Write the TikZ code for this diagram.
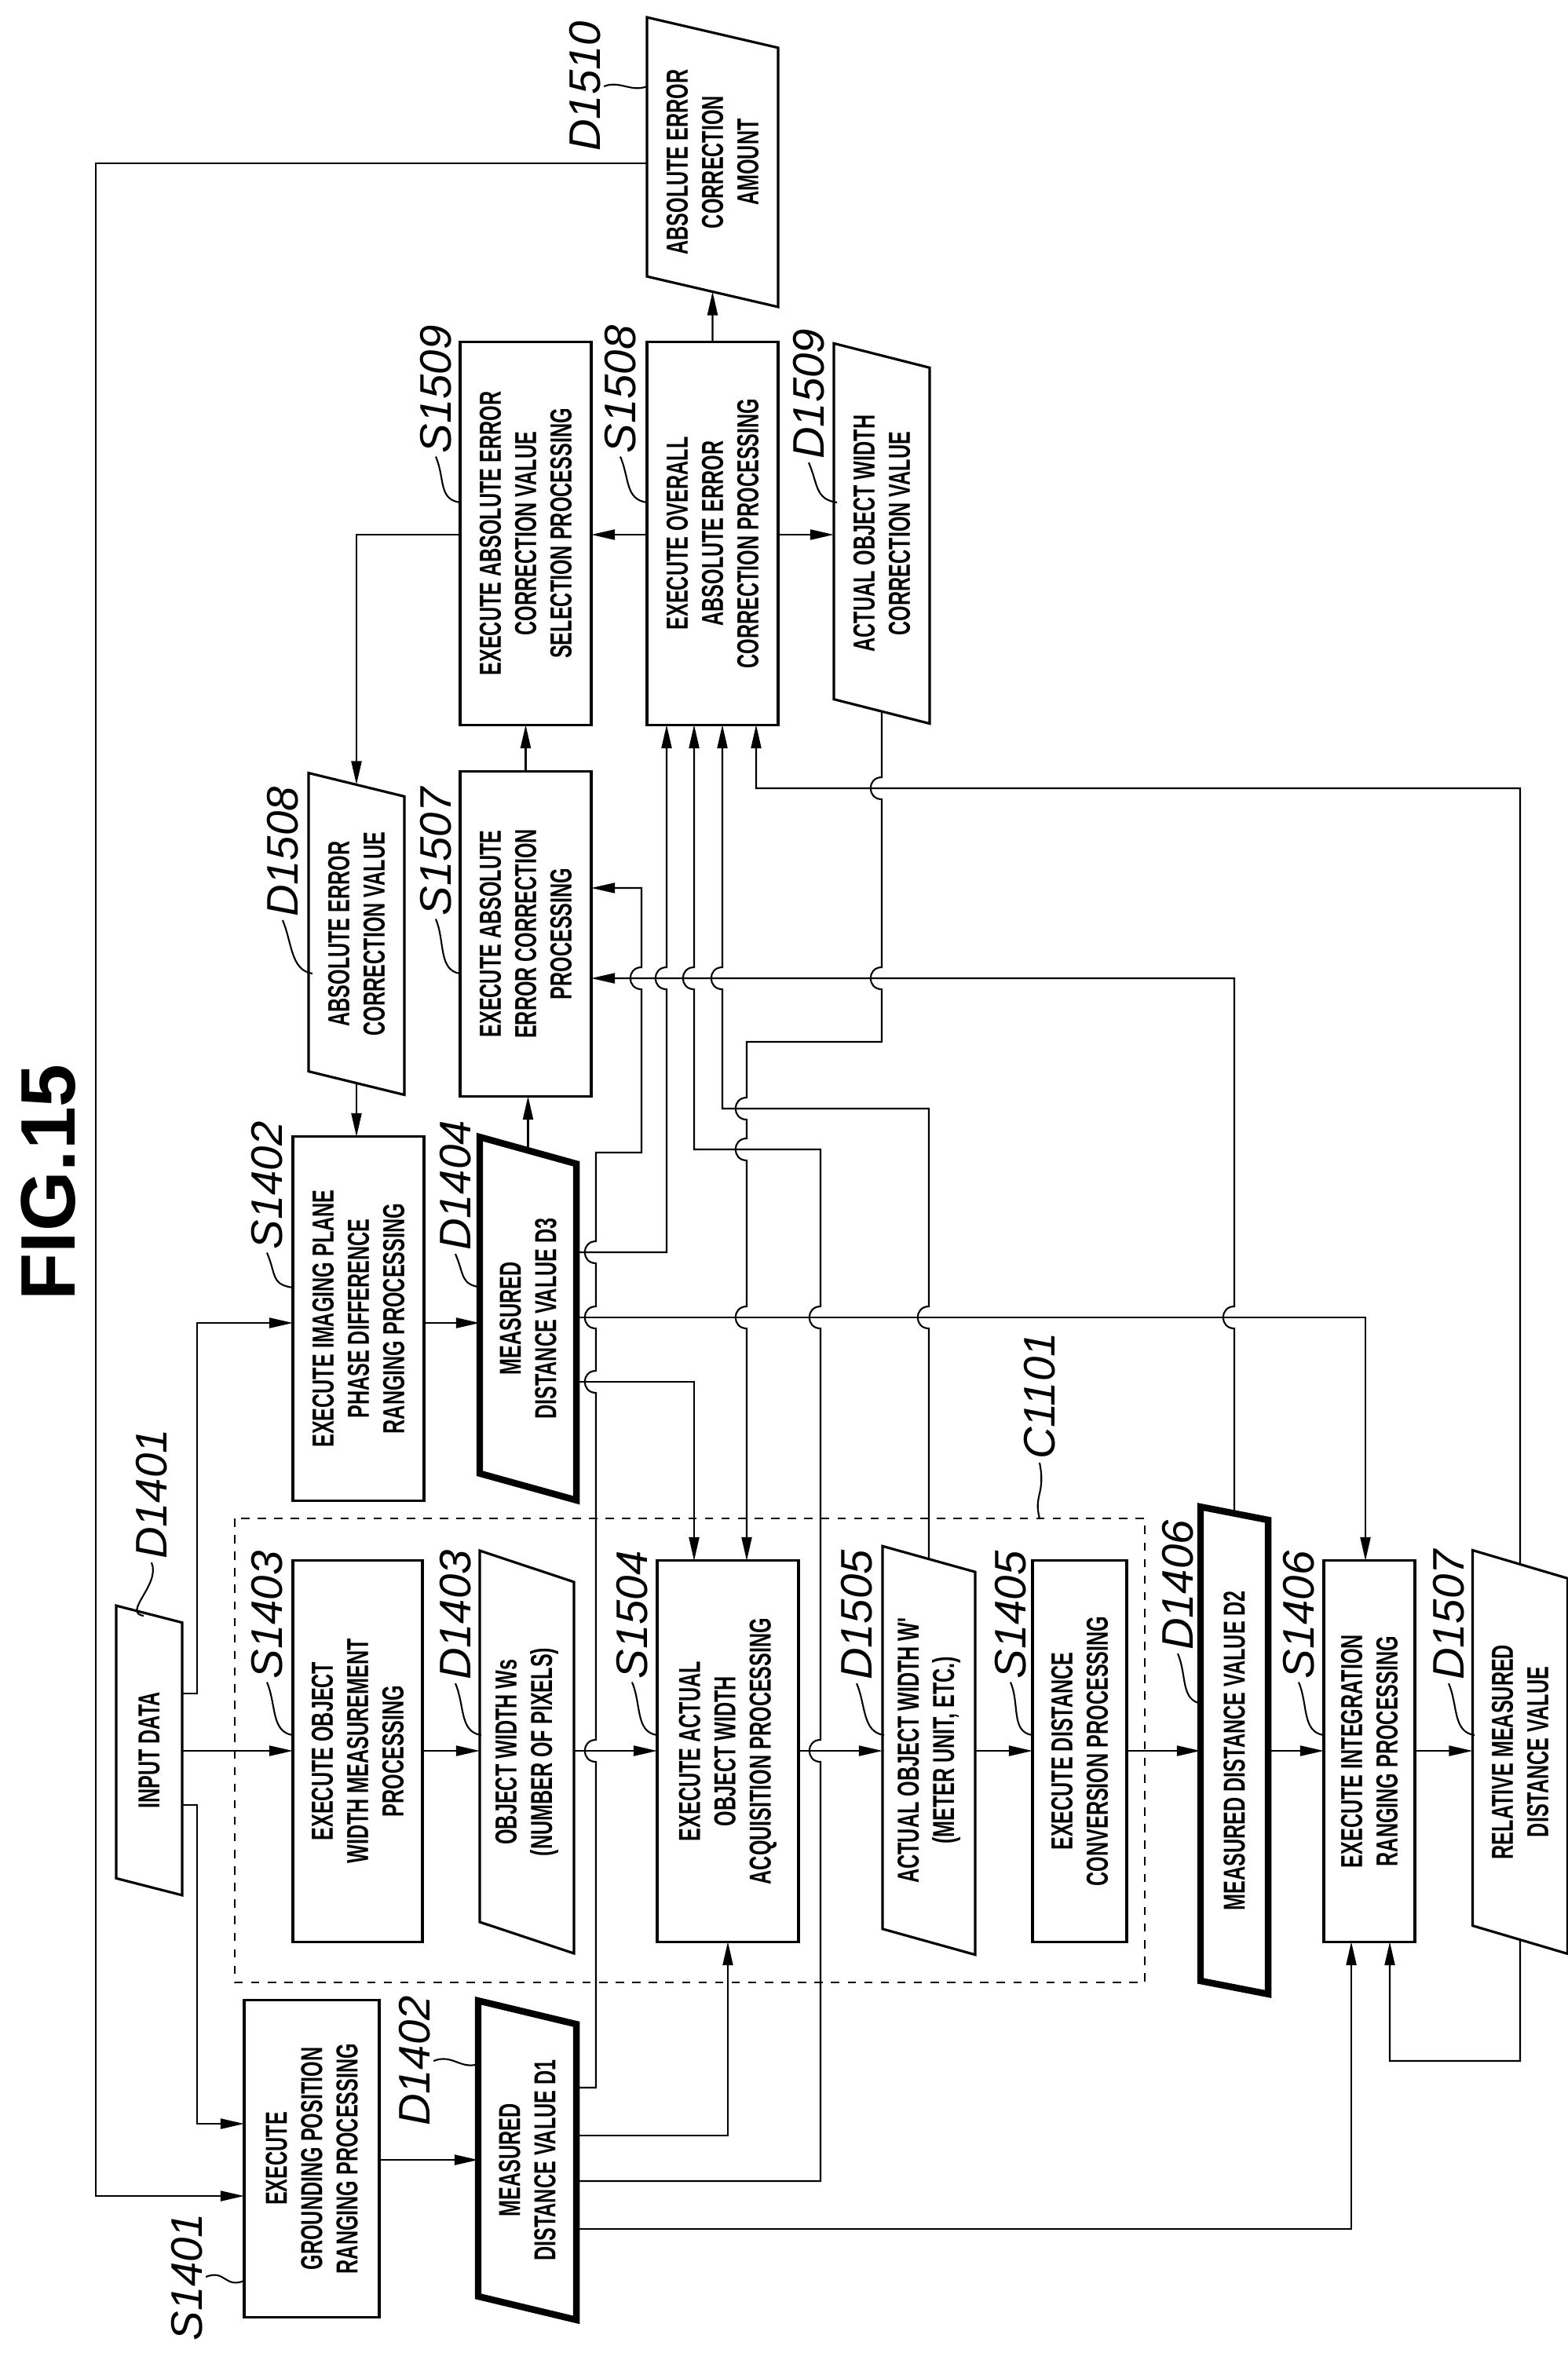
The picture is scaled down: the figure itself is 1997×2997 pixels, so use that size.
\documentclass[tikz,border=0pt]{standalone}
\usepackage{fontspec}
\setmainfont{Liberation Sans}
\newfontfamily\boxfam{Liberation Sans}[FakeStretch=0.65]
\newfontfamily\tagfam{Liberation Sans}
\usetikzlibrary{arrows.meta,shapes.geometric}
\newcommand\boxfont{\boxfam\bfseries\fontsize{11}{12.8}\selectfont}
\newcommand\tagfont{\tagfam\itshape\fontsize{16}{18}\selectfont}
\newcommand\titlefont{\bfseries\fontsize{28}{30}\selectfont}
% hops on vertical lines, bulging to the left
\newcommand\hopup[2]{-- (#1,#2+14) .. controls (#1-19,#2+14) and (#1-19,#2-14) .. (#1,#2-14)}
\newcommand\hopdn[2]{-- (#1,#2-14) .. controls (#1-19,#2-14) and (#1-19,#2+14) .. (#1,#2+14)}
\newcommand\tagline[2]{\draw[link] (#1) .. controls +(12,28) and +(-28,-4) .. (#2);}
\tikzset{
  box/.style={draw, line width=0.9pt, rotate=90, inner sep=0pt, outer sep=0pt, align=center, font=\boxfont},
  para/.style={box, trapezium, trapezium left angle=#1, trapezium right angle=180-#1, trapezium stretches},
  para/.default=73,
  boldpara/.style={para=#1, line width=2.4pt},
  boldpara/.default=73,
  tag/.style={rotate=90, font=\tagfont, inner sep=1pt},
  link/.style={line width=0.6pt},
  arr/.style={link, -{Triangle[length=0.3cm,width=0.13cm]}},
}
\begin{document}
\begin{tikzpicture}[x=0.01cm, y=-0.01cm]
\useasboundingbox (0,0) rectangle (1997,2997);
\node[rotate=90, font=\titlefont] (title) at (62,1506) {FIG.15};

% upper part
\node[para=75, minimum width=3.71cm, minimum height=1.67cm] (D1510) at (907.5,206.5) {ABSOLUTE ERROR\\CORRECTION\\AMOUNT};
\node[box, minimum width=4.87cm, minimum height=1.67cm] (S1509) at (669.5,679.5) {EXECUTE ABSOLUTE ERROR\\CORRECTION VALUE\\SELECTION PROCESSING};
\node[box, minimum width=4.87cm, minimum height=1.67cm] (S1508) at (907.5,679.5) {EXECUTE OVERALL\\ABSOLUTE ERROR\\CORRECTION PROCESSING};
\node[para, minimum width=4.87cm, minimum height=1.22cm] (D1509) at (1123,679.5) {ACTUAL OBJECT WIDTH\\CORRECTION VALUE};
\node[para, minimum width=4.13cm, minimum height=1.22cm] (D1508) at (454,1189.5) {ABSOLUTE ERROR\\CORRECTION VALUE};
\node[box, minimum width=4.13cm, minimum height=1.67cm] (S1507) at (669.5,1189.5) {EXECUTE ABSOLUTE\\ERROR CORRECTION\\PROCESSING};
\node[box, minimum width=4.63cm, minimum height=1.67cm] (S1402) at (456.5,1679.5) {EXECUTE IMAGING PLANE\\PHASE DIFFERENCE\\RANGING PROCESSING};
\node[boldpara, minimum width=4.63cm, minimum height=1.23cm] (D1404) at (672.5,1679.5) {MEASURED\\DISTANCE VALUE D3};

% middle row
\node[para=70, minimum width=3.69cm, minimum height=0.84cm] (INPUT) at (190,2229.5) {INPUT DATA};
\draw[link, dashed] (299,1934) coordinate (C1101) rectangle (1458,2525);
\node[box, minimum width=4.85cm, minimum height=1.65cm] (S1403) at (455.5,2230.5) {EXECUTE OBJECT\\WIDTH MEASUREMENT\\PROCESSING};
\node[para, minimum width=5.17cm, minimum height=1.2cm] (D1403) at (671,2231.5) {OBJECT WIDTH W\textsc{s}\\(NUMBER OF PIXELS)};
\node[box, minimum width=4.85cm, minimum height=1.8cm] (S1504) at (927,2230.5) {EXECUTE ACTUAL\\OBJECT WIDTH\\ACQUISITION PROCESSING};
\node[para, minimum width=5.21cm, minimum height=1.18cm] (D1505) at (1183,2229.5) {ACTUAL OBJECT WIDTH W'\\(METER UNIT, ETC.)};
\node[box, minimum width=4.85cm, minimum height=1.2cm] (S1405) at (1375,2230.5) {EXECUTE DISTANCE\\CONVERSION PROCESSING};
\node[boldpara=67, minimum width=6.21cm, minimum height=0.86cm] (D1406) at (1572,2229.5) {MEASURED DISTANCE VALUE D2};
\node[box, minimum width=4.85cm, minimum height=1.16cm] (S1406) at (1744,2230.5) {EXECUTE INTEGRATION\\RANGING PROCESSING};
\node[para, minimum width=5.17cm, minimum height=1.21cm] (D1507) at (1936,2231.5) {RELATIVE MEASURED\\DISTANCE VALUE};

% lower row
\node[box, minimum width=4.03cm, minimum height=1.72cm] (S1401) at (397,2749.5) {EXECUTE\\GROUNDING POSITION\\RANGING PROCESSING};
\node[boldpara, minimum width=4.07cm, minimum height=1.25cm] (D1402) at (671.5,2751.5) {MEASURED\\DISTANCE VALUE D1};

% reference tags
\node[tag] (tD1510) at (745,110) {D1510};
\node[tag] (tS1509) at (555,496) {S1509};
\node[tag] (tS1508) at (790,496) {S1508};
\node[tag] (tD1509) at (1030,502) {D1509};
\node[tag] (tD1508) at (360,1085) {D1508};
\node[tag] (tS1507) at (555,1085) {S1507};
\node[tag] (tS1402) at (340,1510) {S1402};
\node[tag] (tD1404) at (580,1510) {D1404};
\node[tag] (tD1401) at (193,1903) {D1401};
\node[tag] (tC1101) at (1324,1778) {C1101};
\node[tag] (tS1403) at (340,2057) {S1403};
\node[tag] (tD1403) at (580,2057) {D1403};
\node[tag] (tS1504) at (805,2057) {S1504};
\node[tag] (tD1505) at (1091,2057) {D1505};
\node[tag] (tS1405) at (1287,2057) {S1405};
\node[tag] (tD1406) at (1500,2019) {D1406};
\node[tag] (tS1406) at (1654,2057) {S1406};
\node[tag] (tD1507) at (1845,2057) {D1507};
\node[tag] (tS1401) at (238,2900) {S1401};
\node[tag] (tD1402) at (528,2625) {D1402};

\draw[link] (tD1510.south) .. controls +(20,-8) and +(-20,8) .. (D1510.north |- 0,110);
\tagline{tS1509.west}{S1509.north |- 0,640}
\tagline{tS1508.west}{S1508.north |- 0,640}
\tagline{tD1509.west}{1066,640}
\tagline{tD1508.west}{398,1240}
\tagline{tS1507.west}{S1507.north |- 0,1240}
\tagline{tS1402.west}{S1402.north |- 0,1640}
\tagline{tD1404.west}{614,1640}
\tagline{tD1401.west}{183,2058}
\draw[link] (tC1101.west) .. controls +(8,40) and +(-8,-30) .. (C1101 -| tC1101.west);
\tagline{tS1403.west}{S1403.north |- 0,2210}
\tagline{tD1403.west}{613,2210}
\tagline{tS1504.west}{S1504.north |- 0,2210}
\tagline{tD1505.west}{1126,2210}
\tagline{tS1405.west}{S1405.north |- 0,2210}
\tagline{tD1406.west}{1531,2170}
\tagline{tS1406.west}{S1406.north |- 0,2210}
\tagline{tD1507.west}{1878,2210}
\draw[link] (tS1401.south) .. controls +(25,-10) and +(-25,10) .. (S1401.north |- 0,2905);
\draw[link] (tD1402.south) .. controls +(25,-10) and +(-25,10) .. (612,2628);

% connectors
\draw[arr] (D1510.north |- 0,208) -- (122,208) -- (122,2797) -- (S1401.north |- 0,2797);
\draw[arr] (S1508.east) -- (D1510.west);
\draw[arr] (S1508.north |- 0,681) -- (S1509.south |- 0,681);
\draw[arr] (S1508.south |- 0,681) -- (D1509.north |- 0,681);
\draw[arr] (S1509.north |- 0,681) -| (D1508.east);
\draw[arr] (D1508.west) -- (D1508.west |- S1402.east);
\draw[arr] (S1507.east) -- (S1507.east |- S1509.west);
\draw[arr] (D1404.east) -- (D1404.east |- S1507.west);
\draw[arr] (S1402.south |- 0,1685) -- (D1404.north |- 0,1685);
\draw[arr] (INPUT.south |- 0,2157) -- (251,2157) -- (251,1685) -- (S1402.north |- 0,1685);
\draw[arr] (INPUT.south |- 0,2299) -- (251,2299) -- (251,2705) -- (S1401.north |- 0,2705);
\foreach \a/\b in {INPUT/S1403, S1403/D1403, D1403/S1504, S1504/D1505, D1505/S1405, S1405/D1406, D1406/S1406, S1406/D1507}
  \draw[arr] (\a.south |- 0,2230) -- (\b.north |- 0,2230);
\draw[arr] (S1401.south |- 0,2751) -- (D1402.north |- 0,2751);

% from D1402
\draw[arr] (D1402.south |- 0,2659) -- (759,2659) \hopup{759}{2230} \hopup{759}{1760} \hopup{759}{1678} \hopup{759}{1595}
  -- (759,1468) -- (817,1468) \hopup{817}{1246} -- (817,1131) -- (S1507.south |- 0,1131);
\draw[arr] (D1402.south |- 0,2720) -| (S1504.west);
\draw[arr] (D1402.south |- 0,2778) -- (1045,2778) \hopup{1045}{2230} \hopup{1045}{1678} -- (1045,1464)
  -- (884,1464) \hopup{884}{1246} -- (884,0 |- S1508.west);
\draw[arr] (D1402.south |- 0,2839) -- (1721,2839) -- (1721,0 |- S1406.west);

% from D1404
\draw[arr] (D1404.south |- 0,1595) -- (849,1595) \hopup{849}{1246} -- (849,0 |- S1508.west);
\draw[arr] (D1404.south |- 0,1678) -- (1739,1678) -- (1739,0 |- S1406.east);
\draw[arr] (D1404.south |- 0,1760) -- (884,1760) -- (884,0 |- S1504.east);

% feedback lines
\draw[arr] (D1509.west) \hopdn{1123}{1004} \hopdn{1123}{1246} -- (1123,1327) -- (951,1327)
  \hopdn{951}{1412} \hopdn{951}{1464} \hopdn{951}{1678} -- (951,0 |- S1504.east);
\draw[arr] (D1505.east) \hopup{1183}{1678} -- (1183,1412) -- (920,1412) \hopup{920}{1246} -- (920,0 |- S1508.west);
\draw[arr] (D1406.east) \hopup{1572}{1678} -- (1572,1246) -- (S1507.south |- 0,1246);
\draw[arr] (D1507.east) -- (1936,1004) -- (963,1004) -- (963,0 |- S1508.west);
\draw[arr] (D1507.west) -- (1936,2625) -- (1770,2625) -- (1770,0 |- S1406.west);
\end{tikzpicture}
\end{document}
